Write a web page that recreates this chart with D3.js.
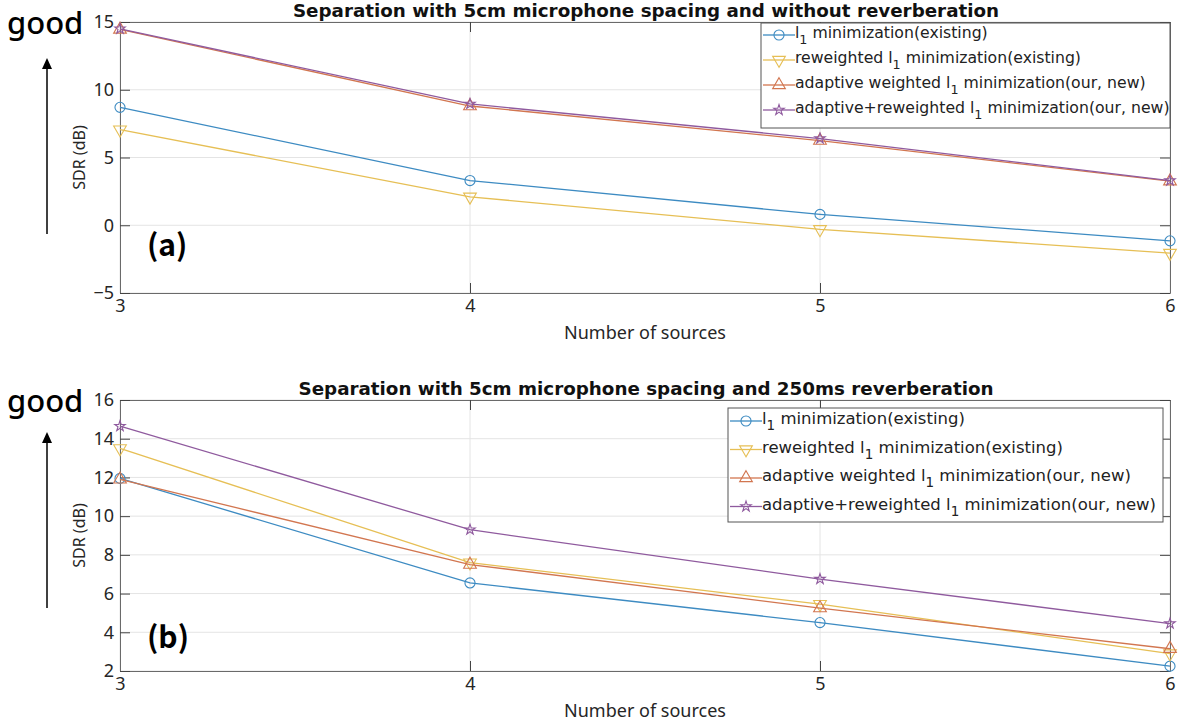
<!DOCTYPE html>
<html>
<head>
<meta charset="utf-8">
<script src="https://cdn.jsdelivr.net/npm/d3@7"></script>
<style>
  body { margin: 0; background: #fff; }
  text { font-family: "DejaVu Sans", sans-serif; }
</style>
</head>
<body>
<svg id="chart" width="1184" height="726"></svg>
<script>
var sources = [3, 4, 5, 6];
var seriesNames = [
  ["", " minimization(existing)"],
  ["reweighted ", " minimization(existing)"],
  ["adaptive weighted ", " minimization(our, new)"],
  ["adaptive+reweighted ", " minimization(our, new)"]
];
var seriesColors = ["#3d8bc2", "#e6bf55", "#d27650", "#8f5a9e"];
var seriesSymbols = ["circle", "triangleDown", "triangle", "star"];

// (a) without reverberation
var topL1 = [8.7, 3.3, 0.8, -1.15];
var topReweighted = [7.05, 2.1, -0.3, -2.05];
var topAdaptive = [14.45, 8.8, 6.25, 3.25];
var topAdaptiveRew = [14.5, 8.95, 6.4, 3.3];
var topYTicks = [-5, 0, 5, 10, 15];

// (b) 250ms reverberation
var botL1 = [11.95, 6.55, 4.5, 2.25];
var botReweighted = [13.5, 7.6, 5.45, 2.9];
var botAdaptive = [11.9, 7.5, 5.25, 3.15];
var botAdaptiveRew = [14.65, 9.3, 6.75, 4.45];
var botYTicks = [2, 4, 6, 8, 10, 12, 14, 16];

var tickFont = "'Noto Sans', 'DejaVu Sans', sans-serif";
var svg = d3.select("#chart");

function symbolPath(name) {
  if (name == "circle") return d3.symbol(d3.symbolCircle, 80)();
  if (name == "star") return d3.symbol(d3.symbolStar, 34)();
  return d3.symbol(d3.symbolTriangle, 70)();
}

function drawPanel(cfg) {
  /* Draws one panel: axes box, grid, lines, markers, legend, labels. */
  var x = d3.scaleLinear().domain([3, 6]).range([cfg.left, cfg.right]);
  var y = d3.scaleLinear().domain(cfg.yDomain).range([cfg.bottom, cfg.top]);
  var g = svg.append("g");

  // grid
  g.selectAll(".gx").data(sources).enter().append("line")
    .attr("x1", function(d) { return x(d); }).attr("x2", function(d) { return x(d); })
    .attr("y1", cfg.top).attr("y2", cfg.bottom)
    .attr("stroke", "#e4e4e4").attr("stroke-width", 1);
  g.selectAll(".gy").data(cfg.yTicks).enter().append("line")
    .attr("x1", cfg.left).attr("x2", cfg.right)
    .attr("y1", function(d) { return y(d); }).attr("y2", function(d) { return y(d); })
    .attr("stroke", "#e4e4e4").attr("stroke-width", 1);

  // axes with inward ticks on all four sides
  var tk = 10;
  g.append("g").attr("transform", "translate(0," + cfg.bottom + ")")
    .call(d3.axisBottom(x).tickValues(sources).tickFormat(d3.format("d"))
      .tickSizeInner(-tk).tickSizeOuter(0).tickPadding(6));
  g.append("g").attr("transform", "translate(0," + cfg.top + ")")
    .call(d3.axisTop(x).tickValues(sources).tickSizeInner(-tk).tickSizeOuter(0).tickFormat(""));
  g.append("g").attr("transform", "translate(" + cfg.left + ",0)")
    .call(d3.axisLeft(y).tickValues(cfg.yTicks).tickFormat(d3.format("d"))
      .tickSizeInner(-tk).tickSizeOuter(0).tickPadding(6));
  g.append("g").attr("transform", "translate(" + cfg.right + ",0)")
    .call(d3.axisRight(y).tickValues(cfg.yTicks).tickSizeInner(-tk).tickSizeOuter(0).tickFormat(""));
  g.selectAll(".domain").attr("stroke", "#6a6a6a");
  g.selectAll(".tick line").attr("stroke", "#444");
  g.selectAll(".tick text").attr("fill", "#262626")
    .style("font-family", tickFont)
    .style("font-size", "18px");

  // lines and markers
  var line = d3.line()
    .x(function(d, i) { return x(sources[i]); })
    .y(function(d) { return y(d); });

  cfg.series.forEach(function(vals, s) {
    g.append("path").datum(vals)
      .attr("d", line)
      .attr("fill", "none")
      .attr("stroke", seriesColors[s])
      .attr("stroke-width", 1.3);
    g.selectAll(".m" + s).data(vals).enter().append("path")
      .attr("d", symbolPath(seriesSymbols[s]))
      .attr("transform", function(d, i) {
        var r = seriesSymbols[s] == "triangleDown" ? " rotate(180)" : "";
        return "translate(" + x(sources[i]) + "," + y(d) + ")" + r;
      })
      .attr("fill", "none")
      .attr("stroke", seriesColors[s])
      .attr("stroke-width", 1.1);
  });

  // title
  g.append("text")
    .attr("x", (cfg.left + cfg.right) / 2 + 1).attr("y", cfg.top - 5)
    .attr("text-anchor", "middle")
    .style("font-weight", "bold").style("font-size", "18.3px")
    .attr("fill", "#111")
    .text(cfg.title);

  // axis labels
  g.append("text")
    .attr("x", (cfg.left + cfg.right) / 2).attr("y", cfg.bottom + 46)
    .attr("text-anchor", "middle")
    .style("font-family", tickFont)
    .style("font-size", "18px").attr("fill", "#262626")
    .text("Number of sources");
  g.append("text")
    .attr("transform", "translate(" + (cfg.left - 35) + "," + ((cfg.top + cfg.bottom) / 2) + ") rotate(-90)")
    .attr("text-anchor", "middle")
    .style("font-family", tickFont)
    .style("font-size", "16px").attr("fill", "#262626")
    .text("SDR (dB)");

  // "good" with arrow
  svg.append("text")
    .attr("x", 7).attr("y", cfg.top + 12)
    .style("font-family", "'Noto Sans', sans-serif")
    .style("font-size", "31px").style("font-weight", "500")
    .attr("fill", "#000")
    .text("good");
  svg.append("line")
    .attr("x1", 47).attr("x2", 47)
    .attr("y1", cfg.arrowBottom).attr("y2", cfg.arrowTop + 8)
    .attr("stroke", "#000").attr("stroke-width", 1.5);
  svg.append("path")
    .attr("d", d3.line()([[47, cfg.arrowTop], [42, cfg.arrowTop + 11], [52, cfg.arrowTop + 11]]) + "Z")
    .attr("fill", "#000");

  // panel tag
  svg.append("text")
    .attr("x", cfg.left + 27).attr("y", cfg.tagY)
    .style("font-family", "'Noto Sans CJK SC', sans-serif")
    .style("font-size", "30px").style("font-weight", "bold")
    .attr("fill", "#000")
    .text(cfg.tag);

  // legend
  var lg = g.append("g");
  lg.append("rect")
    .attr("x", cfg.legend.x).attr("y", cfg.legend.y)
    .attr("width", cfg.legend.w).attr("height", cfg.legend.h)
    .attr("fill", "#fff").attr("stroke", "#555").attr("stroke-width", 1);
  seriesNames.forEach(function(nm, s) {
    var ly = cfg.legend.y + cfg.legend.first + s * cfg.legend.step;
    var lx = cfg.legend.x + 2;
    lg.append("line")
      .attr("x1", lx).attr("x2", lx + 32)
      .attr("y1", ly).attr("y2", ly)
      .attr("stroke", seriesColors[s]).attr("stroke-width", 1.3);
    lg.append("path")
      .attr("d", symbolPath(seriesSymbols[s]))
      .attr("transform", "translate(" + (lx + 16) + "," + ly + ")" +
        (seriesSymbols[s] == "triangleDown" ? " rotate(180)" : ""))
      .attr("fill", "none").attr("stroke", seriesColors[s]).attr("stroke-width", 1.1);
    var t = lg.append("text")
      .attr("x", lx + 32).attr("y", ly + 3)
      .style("font-size", cfg.legend.font + "px").attr("fill", "#222");
    t.append("tspan").text(nm[0] + "l");
    t.append("tspan").attr("dy", 6).style("font-size", (cfg.legend.font - 3) + "px").text("1");
    t.append("tspan").attr("dy", -6).text(nm[1]);
  });
}

drawPanel({
  left: 120, right: 1170, top: 22, bottom: 293,
  yDomain: [-5, 15], yTicks: topYTicks,
  series: [topL1, topReweighted, topAdaptive, topAdaptiveRew],
  title: "Separation with 5cm microphone spacing and without reverberation",
  tag: "(a)", tagY: 256, arrowTop: 58, arrowBottom: 234,
  legend: { x: 761, y: 23, w: 409, h: 105, first: 12, step: 25, font: 15.7 }
});

drawPanel({
  left: 120, right: 1170, top: 400, bottom: 671,
  yDomain: [2, 16], yTicks: botYTicks,
  series: [botL1, botReweighted, botAdaptive, botAdaptiveRew],
  title: "Separation with 5cm microphone spacing and 250ms reverberation",
  tag: "(b)", tagY: 648, arrowTop: 432, arrowBottom: 608,
  legend: { x: 728, y: 408, w: 435, h: 114, first: 13, step: 28.5, font: 16.5 }
});
</script>
</body>
</html>
